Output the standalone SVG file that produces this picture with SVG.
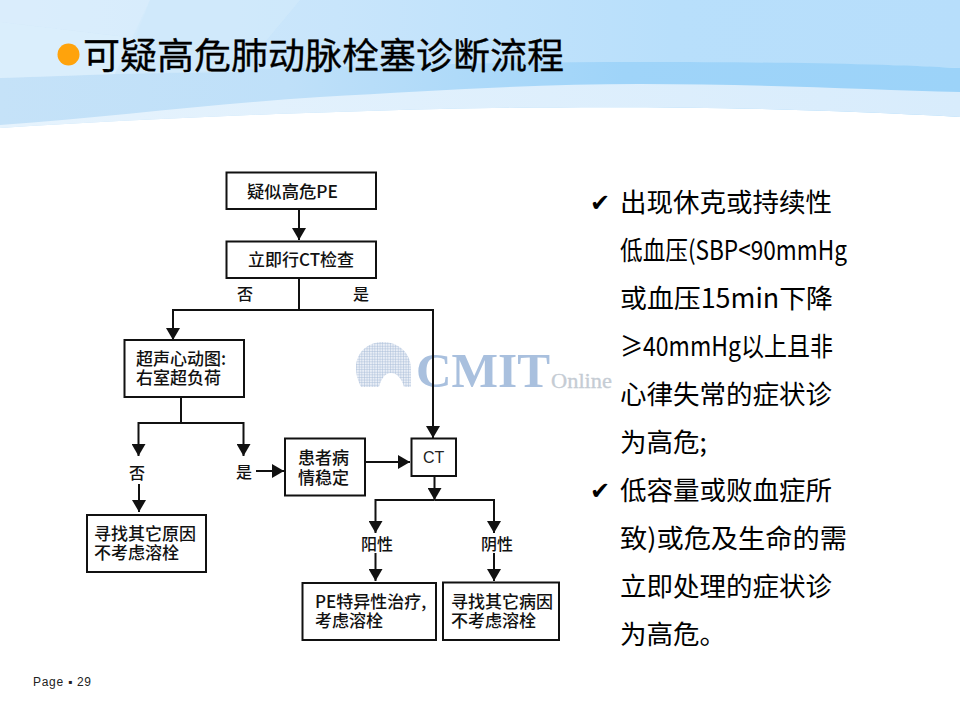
<svg xmlns="http://www.w3.org/2000/svg" width="960" height="720" viewBox="0 0 960 720">
<style>
.cjk{font-family:"Noto Sans CJK SC","Liberation Sans",sans-serif;fill:#000}
.n{font-size:17px;fill:#111;font-weight:500}
.l{font-size:16px;fill:#111;text-anchor:middle;font-weight:500}
.r{font-size:26.500px;fill:#000}
.chk{font-family:"DejaVu Sans",sans-serif;font-size:24px;fill:#000}
.box{fill:#fff;stroke:#111;stroke-width:2}
.c{fill:none;stroke:#111;stroke-width:2}
</style>
<defs>
<linearGradient id="sky" x1="0" y1="0" x2="1" y2="0"><stop offset="0" stop-color="#d2e9fb"/><stop offset=".35" stop-color="#c8e5fb"/><stop offset=".7" stop-color="#b8dffb"/><stop offset="1" stop-color="#b7defb"/></linearGradient>
<linearGradient id="fade" x1="0" y1="0" x2="1" y2="0"><stop offset="0" stop-color="#c5e2f8"/><stop offset=".3" stop-color="#bfe0f9"/><stop offset=".65" stop-color="#9fd4f9"/><stop offset="1" stop-color="#9cd3f9"/></linearGradient>
<linearGradient id="pale" x1="0" y1="0" x2="1" y2="0"><stop offset="0" stop-color="#e6f3fd"/><stop offset="1" stop-color="#d8ecfc"/></linearGradient>
<marker id="a" markerUnits="userSpaceOnUse" markerWidth="14" markerHeight="14" refX="12" refY="7" orient="auto"><path d="M0 0L12 7L0 14Z" fill="#111"/></marker>
<pattern id="mesh" width="2.600" height="2.600" patternUnits="userSpaceOnUse"><rect width="2.600" height="2.600" fill="#e9eef6"/><path d="M0 0H2.600M0 0V2.600" stroke="#a6bbd7" stroke-width=".9"/></pattern>
</defs>
<rect width="960" height="720" fill="#fff"/>
<g id="banner">
<path d="M0 0H960V68C800 62 620 60 420 70C260 75 120 78 0 80Z" fill="url(#sky)"/>
<path d="M0 78C200 72 400 62 640 62C780 62 880 64 960 68V117C800 108 640 105 440 109C270 113 130 120 0 128Z" fill="url(#fade)"/>
<path d="M0 0H150L135 38L0 22Z" fill="#dff0fd" opacity=".6"/>
<path d="M0 22L135 38L115 74L0 78Z" fill="#dcEFfc" opacity=".85"/>
<path d="M150 0H300L240 72L115 74Z" fill="#d2e9fb" opacity=".7"/>
<path d="M0 125C110 117 210 104 320 97C440 90 540 84 640 84C760 84 870 90 960 92V117C800 108 640 105 440 109C270 113 130 120 0 128Z" fill="url(#pale)"/>
</g>
<g id="title">
<circle cx="68.500" cy="54.500" r="11" fill="#ffa30c"/>
<text class="cjk" x="83" y="69" font-size="36.500" textLength="481" lengthAdjust="spacingAndGlyphs" stroke="#000" stroke-width=".3">可疑高危肺动脉栓塞诊断流程</text>
</g>
<g id="watermark">
<path d="M361 387C357 379 356 373 356 368C356 352 368 342 383 342C399 342 411 354 411 368V387H404C402 379 397 373 391 373C385 373 381 379 379 387Z" fill="url(#mesh)"/>
<text x="416" y="387" font-family="Liberation Serif,serif" font-weight="700" font-size="49" fill="#a9c0de" textLength="134" lengthAdjust="spacingAndGlyphs">CMIT</text>
<text x="551" y="388" font-family="Liberation Serif,serif" font-size="20" fill="#c5ccd4" stroke="#c5ccd4" stroke-width=".3" textLength="61" lengthAdjust="spacingAndGlyphs">Online</text>
</g>
<g id="connectors">
<path class="c" marker-end="url(#a)" d="M299 209V240"/>
<path class="c" d="M299 278V310"/>
<path class="c" marker-end="url(#a)" d="M299 310H173V340"/>
<path class="c" marker-end="url(#a)" d="M299 310H433V438"/>
<path class="c" d="M181 397V423"/>
<path class="c" marker-end="url(#a)" d="M181 423H138.500V456"/>
<path class="c" marker-end="url(#a)" d="M181 423H243.500V456"/>
<path class="c" marker-end="url(#a)" d="M139 484V512"/>
<path class="c" marker-end="url(#a)" d="M256 471H284"/>
<path class="c" marker-end="url(#a)" d="M365 462H410"/>
<path class="c" marker-end="url(#a)" d="M434.500 476V500"/>
<path class="c" marker-end="url(#a)" d="M434.500 500H375.500V533"/>
<path class="c" marker-end="url(#a)" d="M434.500 500H494V533"/>
<path class="c" marker-end="url(#a)" d="M375.500 553V581"/>
<path class="c" marker-end="url(#a)" d="M494 553V581"/>
</g>
<g id="n1"><rect class="box" x="226.500" y="172.500" width="149.500" height="36.500"/><text class="cjk n" x="247" y="198" textLength="91" lengthAdjust="spacingAndGlyphs">疑似高危PE</text></g>
<g id="n2"><rect class="box" x="226.500" y="241.500" width="149.500" height="36.500"/><text class="cjk n" x="248" y="266" textLength="106" lengthAdjust="spacingAndGlyphs">立即行CT检查</text></g>
<g id="n3"><rect class="box" x="124.500" y="340" width="119.500" height="57"/><text class="cjk n"><tspan x="136" y="365">超声心动图:</tspan><tspan x="136" y="384">右室超负荷</tspan></text></g>
<g id="n4"><rect class="box" x="87" y="515" width="119" height="57"/><text class="cjk n"><tspan x="94" y="540">寻找其它原因</tspan><tspan x="94" y="559">不考虑溶栓</tspan></text></g>
<g id="n5"><rect class="box" x="285" y="438.500" width="80" height="57"/><text class="cjk n"><tspan x="298" y="464">患者病</tspan><tspan x="298" y="484">情稳定</tspan></text></g>
<g id="n6"><rect class="box" x="411.500" y="438.500" width="44.500" height="37.500"/><text x="423" y="463" font-family="Liberation Sans,sans-serif" font-size="16" fill="#222">CT</text></g>
<g id="n7"><rect class="box" x="302.500" y="583" width="133.500" height="57"/><text class="cjk n"><tspan x="315" y="608">PE特异性治疗,</tspan><tspan x="315" y="627">考虑溶栓</tspan></text></g>
<g id="n8"><rect class="box" x="443" y="582.500" width="116" height="57.500"/><text class="cjk n"><tspan x="451" y="608">寻找其它病因</tspan><tspan x="451" y="627">不考虑溶栓</tspan></text></g>
<g id="labels">
<text class="cjk l" x="245" y="300">否</text><text class="cjk l" x="361" y="300">是</text>
<text class="cjk l" x="137" y="479">否</text><text class="cjk l" x="244" y="478">是</text>
<text class="cjk l" x="377" y="550">阳性</text><text class="cjk l" x="497" y="550">阴性</text>
</g>
<g id="notes">
<text class="chk" x="590" y="211">✔</text>
<text class="cjk r" x="620" y="212">出现休克或持续性</text>
<text class="cjk r" x="620" y="260" textLength="227" lengthAdjust="spacingAndGlyphs">低血压(SBP&lt;90mmHg</text>
<text class="cjk r" x="620" y="308" textLength="213" lengthAdjust="spacingAndGlyphs">或血压15min下降</text>
<text class="cjk r" x="620" y="356" textLength="213" lengthAdjust="spacingAndGlyphs">≥40mmHg以上且非</text>
<text class="cjk r" x="620" y="404">心律失常的症状诊</text>
<text class="cjk r" x="620" y="452">为高危;</text>
<text class="chk" x="590" y="499">✔</text>
<text class="cjk r" x="620" y="500">低容量或败血症所</text>
<text class="cjk r" x="620" y="548" textLength="227" lengthAdjust="spacingAndGlyphs">致)或危及生命的需</text>
<text class="cjk r" x="620" y="596">立即处理的症状诊</text>
<text class="cjk r" x="620" y="644">为高危。</text>
</g>
<g id="footer">
<text x="33" y="686" font-family="Liberation Sans,sans-serif" font-size="12" fill="#222" textLength="58">Page ▪ 29</text>
</g>
</svg>
